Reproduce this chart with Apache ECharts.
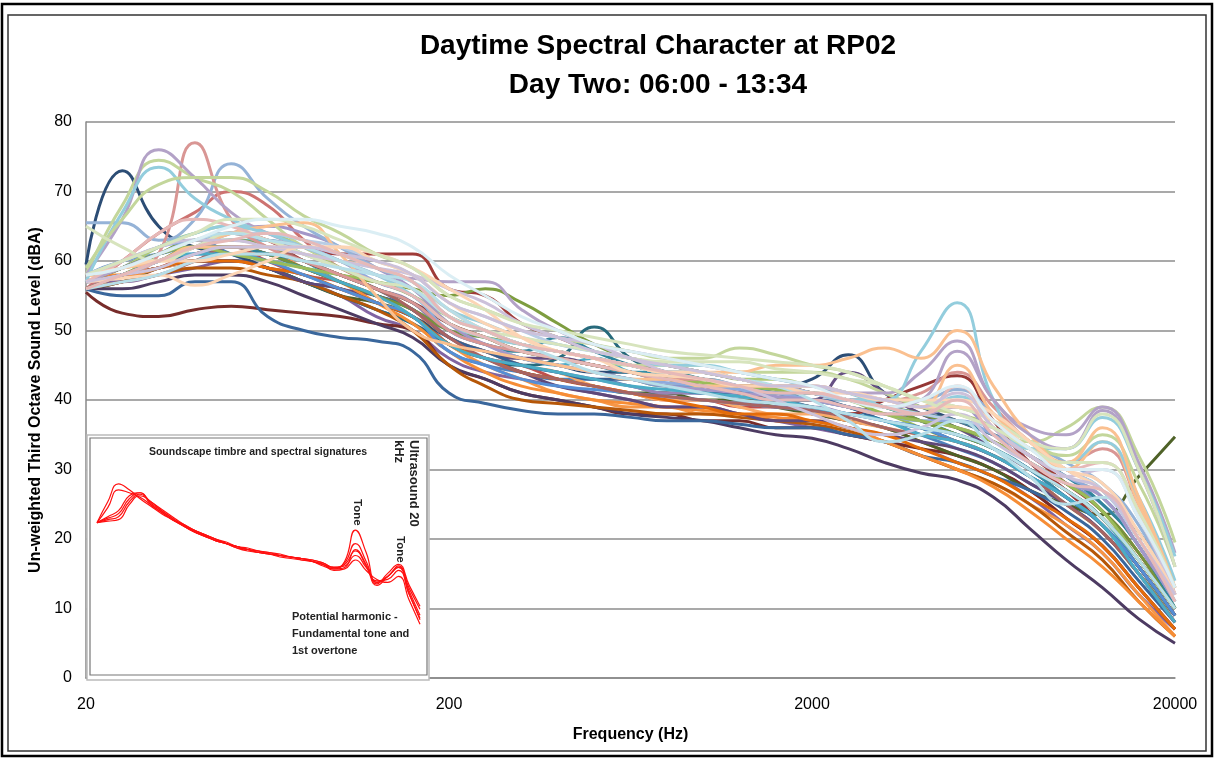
<!DOCTYPE html>
<html>
<head>
<meta charset="utf-8">
<script src="https://cdn.jsdelivr.net/npm/echarts@6/dist/echarts.min.js"></script>
<style>
html,body{margin:0;padding:0;background:#fff;}
#chart{width:1215px;height:760px;}
</style>
</head>
<body>
<div id="chart"></div>
<script>
// Third-octave band centre frequencies (Hz)
const freqBands = ['20','25','31.5','40','50','63','80','100','125','160','200','250','315','400','500','630','800','1000','1250','1600','2000','2500','3150','4000','5000','6300','8000','10000','12500','16000','20000'];

// Main chart: un-weighted third-octave levels (dBA), one array per measurement
const s01 = [57,59,62,63,61, 59,57,55,53,51, 47,45,44,43,43, 42,41,41,40,40, 39,38,37,35,33, 31,28,25,21,15, 9];
const s02 = [56,57,59,61,62, 60,58,57,55,53, 48,46,45,43,42, 41,40,40,39,39, 38,37,36,34,32, 30,27,23,19,13, 7];
const s03 = [57,58,61,63,64, 62,60,58,56,54, 50,48,46,45,44, 43,42,42,41,40, 40,39,38,36,34, 32,29,25,21,15, 9];
const s04 = [57,57,58,59,60, 59,57,55,52,50, 46,44,43,42,41, 40,39,39,38,37, 36,35,34,33,31, 29,26,22,18,12, 7];
const s05 = [58,59,60,62,63, 62,60,57,55,53, 49,47,46,45,46, 44,43,42,41,41, 40,39,38,37,35, 33,30,27,23,16, 9];
const s06 = [57,58,59,60,61, 61,59,57,55,52, 48,45,43,41,40, 39,39,38,38,37, 37,36,34,32,30, 28,25,22,18,12, 6];
const s07 = [59.5,73,65,62,61, 59,57,56,54,52, 49,47,46,45,44, 44,43,43,42,42, 43,46.5,41,39,37, 35,33,30,27,21, 13];
const s08 = [55.5,52.5,52,53,53.5, 53,52.5,52,51,50, 45,43,41,40,39, 38,38,37,37,36, 36,35,34,33,32, 30,27,23,19,13, 7];
const s09 = [56,57,59,60,60, 59,57,55,54,52, 48,46,44,43,42, 41,41,40,40,39, 38,37,36,34,32, 30,27,25,23.5,29, 34.7];
const s10 = [56,56,57,58,58, 57,55,53,51,49, 45,43,41,40,39, 38,37.5,37,36,35, 34.5,33,31,29.5,28.5, 26,21.5,17,13,8.5, 5];
const s11 = [57,58,59,60,60, 59,57,55,53,51, 48,46,45,46,50.5, 46,44,43,42,42, 41,40,39,37,35, 33,30,27,23,17, 10];
const s12 = [56,57,58,59,59, 58,57,55,53,50, 45,42,40,39.5,39, 38.5,38,38,37.5,37, 36.5,35.5,34,32,30, 28,25,21,17,11, 6];
const s13 = [58,60,61,62,62, 61,59,57,55,53, 49,47,46,45,44, 43,42,42,41,41, 40,40,40,38,36, 34,31,28,25,19, 11];
const s14 = [56,60,64,67,70, 68,63,59,57,55, 51,49,47,46,45, 44,43,43,42,41, 40,39,38,37,36, 34,31,27,23,17, 10];
const s15 = [57,59,62,64,65, 64,62,59,57,55, 52,50,48,47,46, 45,44,44,43,43, 42,41,40,39,38, 36,32,29,26,19, 11];
const s16 = [56,58,59,60,61, 61,60,58,56,54, 49,47,45,44,43, 42,41,41,40,39, 39,38,37,36,35, 33,30,28,24,17, 10];
const s17 = [57,58,60,62,63, 63,61,59,57,55, 51,49,47,46,45, 44,43,43,42,41, 41,40,39,38,37, 35,33,30,27,20, 12];
const s18 = [57,58,59,60,61, 61,60,58,56,53, 49,47,45,44,42, 41,40,40,39,38, 38,37,36,35,34, 32,29,26,22,16, 9];
const s19 = [56,55,55,57,57, 52,50,49,48.5,47, 41,39.5,38.5,38,38, 37.5,37,37,36.5,36, 36,35,34,32,31, 29,27,24,20,14, 8];
const s20 = [57,59,61,63,64, 63,62,61,61,61, 56,55,51,49,47, 46,45,44,43,42, 41,40,39,38,37, 35,32,28,24,18, 10];
const s21 = [57,59,61,63,63, 62,60,58,57,56, 55,56,54,51,48, 46,45,44,43,42, 41,40,39,37,35, 33,30,27,23,17, 10];
const s22 = [57,58,59,60,60, 59,58,56,55,53, 49,47,46,46,45, 44,43,42,41,40, 40,44,41,38,36, 33,30,26,22,16, 9];
const s23 = [57,58,60,61,62, 61,59,58,56,53, 50,48,47,46,45, 44,44,43,42,41, 40,39,37,36,35, 33,30,26,22,16, 9];
const s24 = [58,58,59,61,62, 61,59,57,54,51, 47,44,42,41,40, 39.5,39,38.5,38,37.5, 37,36,34,32,30, 27.5,24,20,16,11, 6];
const s25 = [57,59,61,62,62, 61,59,57,55,53, 49,47,45,44,43, 43,42,41,41,40, 40,39,37,36,34, 32,29,26,22,16, 9];
const s26 = [56,58,60,62,64, 63,60,58,56,54, 51,49,47,46,45, 44,43,42,41,40, 39,38,40,42,43.5, 37,31,27,22,16, 9];
const s27 = [56,58,60,62,62, 61,59,57,55,53, 50,49,48,47,46, 45,44,43,42,42, 41,40,39,38,36, 34,31,28,24,18, 10];
const s28 = [57,58,59,60,60, 59,57,56,54,52, 48,46,44,42,41, 40,39,39,38,37, 37,36,35,34,33, 31,28,25,21,15, 8];
const s29 = [57,58,60,61,62, 61,60,58,56,54, 50,48,47,49,47, 45,44,43,42,41, 41,40,39,38,37, 35,32,29,25,19, 10];
const s30 = [57,58,59,60,60, 59,58,56,54,52, 48,46,44,43,42, 41,40,39,38,38, 37,36,35,33,31, 29,26,23,19,13, 7];
const s31 = [57,58,60,61,61, 60,58,56,54,52, 47,45,43,42,41.5, 41,40.5,40,39.5,39, 38.5,38,37,36,34, 32,29,26,22,16, 9];
const s32 = [56,57,58,60,62, 62,60,58,56,53, 49,46,44,43,42, 41,40.5,40,39.5,39, 38.5,37.5,36,35,34, 32,29,25,21,15, 8];
const s33 = [58,60,62,63,64, 63,62,60,57,55, 50,48,46,45,44, 43,42.5,42,41.5,41, 40,39,38,37,37, 35,32,29,26,19, 11];
const s34 = [57,58,60,62,64, 65,64,62,59,56, 51,48,46,45,44, 43,42,41.5,41,40.5, 40,39,38,38,39, 35,31,28,26,19, 11];
const s35 = [57,58,60,61,61, 60,59,57,55,52, 48,46,45,44,43, 42,41.5,41,40.5,40, 39,38,37,35,34, 32,29,26,22,15, 8];
const s36 = [57,59,61,62,61, 60,59,58,57,55, 51,49,47,46,45, 44,43,42.5,42,41.5, 41,40,38,37,36, 34,31,28,24,17, 10];
const s37 = [65.5,65.5,63,66,74, 69,65,62,59,57, 52,50,48,47,46, 45,44,44,43,42, 42,41,40,40,41.5, 38,34,31,28,22, 12];
const s38 = [57,58,61,77,66, 62,60,58,56,54, 50,48,47,46,45, 44,43,43,42,42, 41,40,40,41,44, 39,34,31,33,25, 13];
const s39 = [58,68,74.5,72,70, 66,62,60,58,56, 52,50,48,47,46, 45,45,45,44,44, 44,43,41,39,38, 36,34,36,39,32, 19.5];
const s40 = [58,66,76,72,67, 64,62,60,58,57.5, 57,57,53,50,48, 47,46,45,44,43, 42,41,41,44,48.5, 40,36,35,39,31, 18];
const s41 = [57,67,73.5,69,66, 64,62,60,58,55, 51,49,48,47,46, 45,44,44,43,42, 41,40,40,47,54, 40,33,33,37.5,30, 17.5];
const s42 = [58,59,60,62,64, 65,65.5,61,55,50, 48,47,46,45,44, 43,43,42,42,42, 42,41,40,39,45, 38,34,30,34,25, 12];
const s43 = [59,66,71,72,72, 70,66.5,64,61,59, 55,53,51,49,48, 47,46,46,47.5,46.5, 45,44,42,40,39, 37,34,32,35,28, 16];
const s44 = [58,60,62,64,65, 64,63,61,59,57, 53,51,49,48,47, 46,45,45,44,43, 42,41,39,38,40.5, 37,33,31,34,26, 14];
const s45 = [58,59,60,62,62, 62,61,60,59,57, 53,50,48,47,46, 45,44,44,44,45, 45,46,47.5,46,50, 42,35,31,36,26, 13];
const s46 = [57,59,61,63,64, 63,62,60,58,56, 52,50,48,47,46, 45,44,44,43,42, 41,40,39,40,47, 40,35,33,38.5,30, 16];
const s47 = [57,58,60,62,64, 64,63,62,60,58, 54,52,50,48,47, 46,45,44,43,42, 41,40,39,38,37, 36,33,30,27,20, 12];
const s48 = [57,60,64,66,65, 63,61,59,57,55, 51,49,47,46,45, 44,43,42,41,40, 40,39,38,38,42, 36,32,30,31,24, 12];
const s49 = [65,62,60,62,64, 63,61,59,57,56, 52,50,49,48,47, 46,45.5,45.5,45.5,44.5, 44,43,42,40,39, 37,34,33,38,30, 16];
const s50 = [58,60,62,63,63, 62,61,60,59,58, 56,54,51,49,47, 46,44,43,42,40, 38,36,35,36,38, 34,31,29,30,23, 12];
const s51 = [58,59,61,63,64, 63,62,60,58,56, 52,50,48,47,46, 45,44,44,43,42, 40,37,34,35,37, 33,29,25,26,20, 11];
const s52 = [57,57.5,58,56.5,58, 60,62,62,61,59, 56,53,49,47,46, 45,44,44,43,42, 42,41,40,40,40, 38,34,30,27,21, 12];
const s53 = [56,57,58,60,61, 61,60,59,58,57, 53,50,48,46,44, 43,42,41,40,39.5, 39,38,37,36,35, 33,30,27,23,17, 10];
const s54 = [58,59,60,60,61, 62,62,62,60,58, 54,51,49,47,46, 44,43.5,43,42,42, 41,41,40,39,39, 37,33,30,28,21, 12];
const s55 = [57,58,59,61,62, 62,62,61,60,58, 54,52,50,49,48, 46,45,44,43,42, 42,41,40,39,41, 36,32,29,27,20, 12];
const s56 = [58,60,62,64,66, 66,65,63,61,59, 55,53,51,50,49, 48,47,46.5,46,45.5, 45,44,42,40,38, 36,33,31,31,24, 13];
const s57 = [58,59,61,63,65, 66,66,65,64,62, 58,55,52,50,48, 47,46,45,44,43, 42,40,39,40,42, 37,33,30,30,23, 13];
const s58 = [56,58,60,62,63, 64,63,61,59,57, 52,50,48,47,46, 45,44,43,42,41, 41,40,39,38,40, 35,31,28,27,20, 11];

// Inset: "Soundscape timbre and spectral signatures" example spectra
const inset1 = [51,58,64,62,59, 56.5,54,52,50,48, 46.5,45,44,43,42, 41,40.5,40,39.5,39, 38,36.5,35.5,38,48.5, 41,31,33,36,29, 22];
const inset2 = [51,56,62,61,59.5, 57,54.5,52,50.5,48.5, 47,45.5,44,42.5,41.5, 41,40.5,39.5,39,38.5, 38,37,36,37.5,44, 38,30.5,34,37,30, 23];
const inset3 = [51,53,55,60,61, 57.5,55,52.5,50,48, 46.5,45,44,43,42, 41.5,40.5,40,39.5,39, 38,37,35.5,36,42, 37,31,33,36.5,28, 20];
const inset4 = [51,52,53,58,60.5, 58,55.5,53,50.5,48.5, 47,45.5,44.5,43,42.5, 41.5,41,40.5,39.5,39, 38.5,37.5,36,36.5,40, 36,31.5,32,35,27, 18.5];
const inset5 = [51,51.5,52,57,60, 58,55,52.5,50,48, 46.5,45,44,42.5,42, 41,40.5,40,39.5,38.5, 38,37,35,35.5,38.5, 35,32,31,33,25, 17];
const inset6 = [51,52.5,54,59,61, 57,54.5,52,50,48.5, 47,45.5,44,43,42, 41.5,41,40,39.5,39, 38.5,37.5,36,37,41.5, 36.5,30,33,36,27, 19];

const mainData = [s01,s02,s03,s04,s05,s06,s07,s08,s09,s10,s11,s12,s13,s14,s15,s16,s17,s18,s19,s20,s21,s22,s23,s24,s25,s26,s27,s28,s29,s30,
  s31,s32,s33,s34,s35,s36,s37,s38,s39,s40,s41,s42,s43,s44,s45,s46,s47,s48,s49,s50,s51,s52,s53,s54,s55,s56,s57,s58];
const insetData = [inset1,inset2,inset3,inset4,inset5,inset6];

// Styling (Excel 2007 office palette variants), one colour per main series
const palette = ['#4F81BD','#C0504D','#9BBB59','#8064A2','#4BACC6','#F79646',
  '#2C4D75','#772C2A','#4F6228','#4D3B62','#276A7C','#B65708',
  '#729ACA','#CD7371','#AFC97A','#9983B5','#6FBDD1','#F9AB6B',
  '#3A679C','#9F3B38','#7E9D40','#664F83','#358EA6','#F68D36',
  '#376092','#953735','#77933C','#5F497A','#31859C','#E46C0A',
  '#558ED5','#A86462','#8FAADC','#A397C8','#4BACC6','#9BBB59',
  '#95B3D7','#D99694','#C3D69B','#B3A2C7','#93CDDD','#FAC090',
  '#C3D69B','#93CDDD','#FAC090','#B3A2C7','#B9CDE5','#E6B9B8',
  '#D7E4BD','#CCC1DA','#B7DEE8','#FCD5B5',
  '#B7DEE8','#FBD4B4','#CCC1DA','#D7E4BD','#DBEEF4','#E6B9B8'];

const FONT = "'Liberation Sans Narrow','Liberation Sans',sans-serif";
const chart = echarts.init(document.getElementById('chart'), null, {renderer:'canvas'});

const series = [];
mainData.forEach((d, i) => {
  series.push({
    type:'line', xAxisIndex:0, yAxisIndex:0, data:d, smooth:0.5, symbol:'none',
    lineStyle:{width:3, color:palette[i]}, itemStyle:{color:palette[i]}, z:2, silent:true
  });
});
insetData.forEach(d => {
  series.push({
    type:'line', xAxisIndex:1, yAxisIndex:1, data:d, smooth:0.5, symbol:'none',
    lineStyle:{width:1.2, color:'#FF1010'}, z:20, silent:true
  });
});

chart.setOption({
  animation:false,
  backgroundColor:'#ffffff',
  title:{
    text:'Daytime Spectral Character at RP02\nDay Two: 06:00 - 13:34',
    left:653, top:22, textAlign:'center',
    textStyle:{fontFamily:FONT, fontSize:28, fontWeight:'bold', color:'#000', lineHeight:39}
  },
  grid:[
    {left:86, right:40, top:122, bottom:82},
    {left:97, width:323, top:436, height:239, z:20}
  ],
  xAxis:[
    {type:'category', gridIndex:0, data:freqBands, boundaryGap:false,
     axisLine:{lineStyle:{color:'#888', width:1.5}}, axisTick:{show:false},
     axisLabel:{interval:9, color:'#000', fontSize:16, fontFamily:FONT, margin:19},
     splitLine:{show:false},
     name:'Frequency (Hz)', nameLocation:'middle', nameGap:49,
     nameTextStyle:{fontFamily:FONT, fontSize:16, fontWeight:'bold', color:'#000'}},
    {type:'category', gridIndex:1, data:freqBands, boundaryGap:false, show:false}
  ],
  yAxis:[
    {type:'value', gridIndex:0, min:0, max:80, interval:10,
     axisLine:{show:true, lineStyle:{color:'#888', width:1.5}}, axisTick:{show:false},
     axisLabel:{color:'#000', fontSize:16, fontFamily:FONT, margin:14},
     splitLine:{lineStyle:{color:'#8c8c8c', width:1.5}},
     name:'Un-weighted Third Octave Sound Level (dBA)', nameLocation:'middle', nameGap:41,
     nameTextStyle:{fontFamily:FONT, fontSize:16, fontWeight:'bold', color:'#000'}},
    {type:'value', gridIndex:1, min:0, max:80, show:false}
  ],
  graphic:[
    {type:'rect', z:0, silent:true, shape:{x:2, y:4, width:1210, height:752}, style:{fill:null, stroke:'#000', lineWidth:2.5}},
    {type:'rect', z:0, silent:true, shape:{x:8, y:15, width:1198, height:736}, style:{fill:null, stroke:'#333', lineWidth:1.5}},
    {type:'rect', z:10, silent:true, shape:{x:87, y:435, width:342, height:245}, style:{fill:'#fff', stroke:'#bbb', lineWidth:1.5}},
    {type:'rect', z:11, silent:true, shape:{x:90, y:438, width:337, height:237}, style:{fill:'#fff', stroke:'#777', lineWidth:1.2}},
    {type:'text', z:30, silent:true, x:258, y:452, style:{text:'Soundscape timbre and spectral signatures', fontFamily:FONT, fontSize:10.5, fontWeight:'bold', fill:'#222', align:'center', verticalAlign:'middle'}},
    {type:'text', z:30, silent:true, x:421, y:440, rotation:-Math.PI/2, style:{text:'Ultrasound 20\nkHz', fontFamily:FONT, fontSize:13, fontWeight:'bold', fill:'#222', align:'left', verticalAlign:'top', lineHeight:15}},
    {type:'text', z:30, silent:true, x:363, y:499, rotation:-Math.PI/2, style:{text:'Tone', fontFamily:FONT, fontSize:11.5, fontWeight:'bold', fill:'#222', align:'left', verticalAlign:'top'}},
    {type:'text', z:30, silent:true, x:406, y:536, rotation:-Math.PI/2, style:{text:'Tone', fontFamily:FONT, fontSize:11.5, fontWeight:'bold', fill:'#222', align:'left', verticalAlign:'top'}},
    {type:'text', z:30, silent:true, x:292, y:608, style:{text:'Potential harmonic -\nFundamental tone and\n1st overtone', fontFamily:FONT, fontSize:11, fontWeight:'bold', fill:'#222', align:'left', verticalAlign:'top', lineHeight:17}}
  ],
  series:series
});
</script>
</body>
</html>
